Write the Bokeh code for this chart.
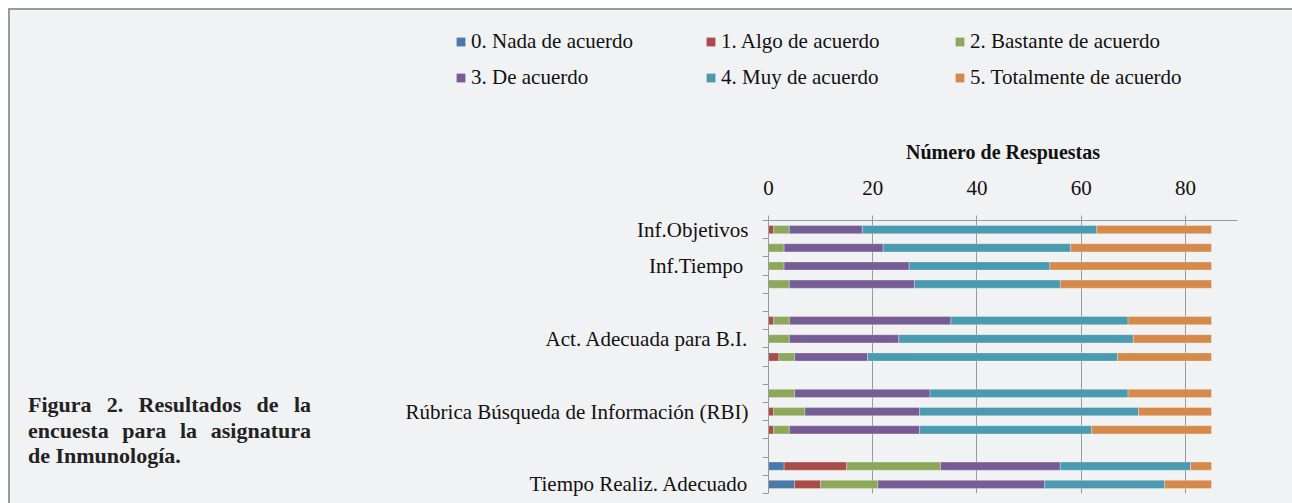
from bokeh.plotting import figure
from bokeh.models import ColumnDataSource, Range1d, FixedTicker, Legend, LegendItem, Div
from bokeh.layouts import row, column
from bokeh.embed import file_html
from bokeh.resources import INLINE

# ---------------- data ----------------
categories = ["Inf.Objetivos", "", "Inf.Tiempo ", "", "", "",
              "Act. Adecuada para B.I.", "", "", "",
              "Rúbrica Búsqueda de Información (RBI)", "", "", "",
              "Tiempo Realiz. Adecuado"]
series_labels = ["0. Nada de acuerdo", "1. Algo de acuerdo", "2. Bastante de acuerdo",
                 "3. De acuerdo", "4. Muy de acuerdo", "5. Totalmente de acuerdo"]
nada       = [0, 0, 0, 0, 0, 0, 0, 0, 0, 0, 0, 0, 0, 3, 5]
algo       = [1, 0, 0, 0, 0, 1, 0, 2, 0, 0, 1, 1, 0, 12, 5]
bastante   = [3, 3, 3, 4, 0, 3, 4, 3, 0, 5, 6, 3, 0, 18, 11]
de_acuerdo = [14, 19, 24, 24, 0, 31, 21, 14, 0, 26, 22, 25, 0, 23, 32]
muy        = [45, 36, 27, 28, 0, 34, 45, 48, 0, 38, 42, 33, 0, 25, 23]
totalmente = [22, 27, 31, 29, 0, 16, 15, 18, 0, 16, 14, 23, 0, 4, 9]
x_ticks = [0, 20, 40, 60, 80]

colors = ["#4a78a8", "#a94d4a", "#8da85a", "#765e94", "#4a9ab0", "#d5894a"]
FONT = "Liberation Serif"
BG = "#f1f2f4"
GRAY = "#9a9a9a"
TXT = "#111111"

rows_idx = list(range(1, len(categories) + 1))
keys = ["nada", "algo", "bastante", "de_acuerdo", "muy", "totalmente"]
src = ColumnDataSource(dict(row=rows_idx, nada=nada, algo=algo, bastante=bastante,
                            de_acuerdo=de_acuerdo, muy=muy, totalmente=totalmente))

# ---------------- main chart ----------------
p = figure(width=982, height=393, output_backend="svg", toolbar_location=None,
           x_axis_location="above",
           x_range=Range1d(0, 90), y_range=Range1d(len(categories) + 0.5, 0.5),
           min_border_left=458, min_border_right=55, min_border_top=110, min_border_bottom=10)
p.background_fill_color = BG
p.border_fill_color = BG
p.outline_line_color = None

renderers = p.hbar_stack(keys, y="row", height=0.45, color=colors,
                         line_color="#f7f7f7", line_alpha=0.5, line_width=0.6, source=src)

xa = p.xaxis[0]
xa.ticker = FixedTicker(ticks=x_ticks)
xa.axis_label = "Número de Respuestas"
xa.axis_label_text_font = FONT
xa.axis_label_text_font_size = "20px"
xa.axis_label_text_font_style = "bold"
xa.axis_label_text_color = TXT
xa.axis_label_standoff = 15
xa.major_label_text_font = FONT
xa.major_label_text_font_size = "21px"
xa.major_label_text_color = TXT
xa.major_label_standoff = 21
xa.axis_line_color = GRAY
xa.major_tick_line_color = GRAY
xa.major_tick_out = 5
xa.major_tick_in = 0
xa.minor_tick_line_color = None

ya = p.yaxis[0]
label_rows = [i for i, c in zip(rows_idx, categories) if c]
ya.ticker = FixedTicker(ticks=label_rows,
                        minor_ticks=[r - 0.5 for r in rows_idx] + [rows_idx[-1] + 0.5])
ya.major_label_overrides = {i: c for i, c in zip(rows_idx, categories) if c}
ya.major_label_text_font = FONT
ya.major_label_text_font_size = "21px"
ya.major_label_text_color = TXT
ya.major_tick_line_color = None
ya.major_tick_out = 0
ya.major_tick_in = 0
ya.major_label_standoff = 14
ya.minor_tick_line_color = GRAY
ya.minor_tick_out = 6
ya.minor_tick_in = 0
ya.axis_line_color = GRAY

p.xgrid.ticker = FixedTicker(ticks=x_ticks)
p.xgrid.grid_line_color = GRAY
p.ygrid.grid_line_color = None

# ---------------- legend strip (its glyphs lie outside its view) ----------------
lf = figure(width=1282, height=100, output_backend="svg", toolbar_location=None,
            x_axis_type=None, y_axis_type=None,
            x_range=Range1d(-20, -10), y_range=Range1d(-20, -10),
            min_border_left=0, min_border_right=0, min_border_top=0, min_border_bottom=0)
lf.background_fill_color = BG
lf.border_fill_color = BG
lf.outline_line_color = None
lf.grid.grid_line_color = None
swatches = lf.hbar_stack(keys, y="row", height=0.42, color=colors, line_color=None, source=src)

for x_off, idxs in [(445, [0, 3]), (695, [1, 4]), (944, [2, 5])]:
    items = [LegendItem(label=series_labels[i], renderers=[swatches[i]]) for i in idxs]
    lg = Legend(items=items, location=(x_off, 20), orientation="vertical",
                padding=0, margin=0, spacing=11, label_standoff=5,
                glyph_width=11, glyph_height=11, label_height=22,
                label_text_font=FONT, label_text_font_size="21px",
                label_text_color=TXT,
                border_line_color=None, background_fill_alpha=0)
    lf.add_layout(lg, "center")

# ---------------- caption ----------------
line_css = "text-align:justify;text-align-last:justify;white-space:nowrap;"
caption = Div(
    text=('<div style="padding-top:282px;padding-left:18px;width:301px;'
          'font-family:\'Liberation Serif\';font-weight:bold;font-size:22px;'
          'line-height:25.5px;color:#222;">'
          '<div style="' + line_css + '">Figura 2. Resultados de la</div>'
          '<div style="' + line_css + '">encuesta para la asignatura</div>'
          '<div>de Inmunología.</div></div>'),
    width=300, height=393, margin=0,
    styles={"background-color": BG})

layout = column(lf, row(caption, p), margin=(8, 0, 0, 8),
                styles={"background-color": BG,
                        "border-top": "2px solid " + GRAY,
                        "border-left": "2px solid " + GRAY})

open("out.html", "w").write(file_html(layout, INLINE))
